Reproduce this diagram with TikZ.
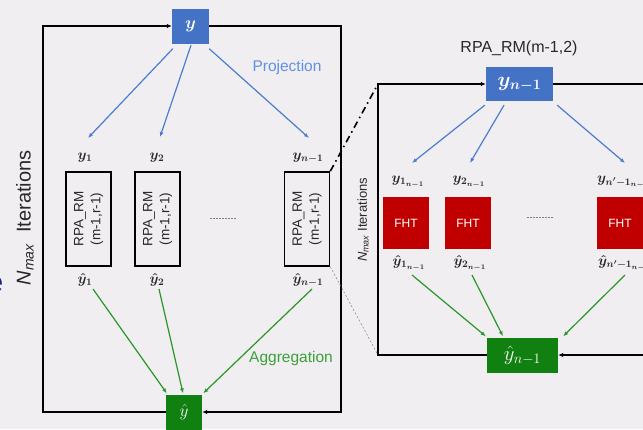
\documentclass[tikz,border=0pt]{standalone}
\usepackage[no-math]{fontspec}
\setmainfont{Liberation Sans}
\usepackage{bm}
\usepackage{graphicx}
\usetikzlibrary{arrows.meta,calc}
\definecolor{bg}{RGB}{240,238,240}
\definecolor{boxblue}{RGB}{68,114,196}
\definecolor{arrblue}{RGB}{74,125,210}
\definecolor{txtblue}{RGB}{95,145,225}
\definecolor{boxgreen}{RGB}{16,128,16}
\definecolor{arrgreen}{RGB}{40,150,40}
\definecolor{txtgreen}{RGB}{60,160,60}
\definecolor{boxred}{RGB}{192,0,0}
\definecolor{navyc}{RGB}{20,30,140}
\definecolor{lbl}{RGB}{40,40,40}
\begin{document}
\begin{tikzpicture}[x=1pt,y=-1pt,
  bluebox/.style={fill=boxblue,text=white,inner sep=0pt},
  greenbox/.style={fill=boxgreen,text=white,inner sep=0pt},
  rpabox/.style={draw=black,line width=1.6pt,minimum width=45pt,minimum height=94pt,inner sep=0pt,
     font=\fontsize{13.5}{17}\selectfont,text=lbl},
  fht/.style={fill=boxred,text=white,minimum width=46pt,minimum height=52pt,inner sep=0pt,
     font=\fontsize{12}{14}\selectfont},
  mlbl/.style={inner sep=0pt,text=lbl,font=\fontsize{14}{16}\selectfont},
  frame/.style={draw=black,line width=1.6pt},
  tipk/.style={-{Latex[length=5pt,width=4.5pt]}},
  proj/.style={draw=arrblue,line width=1.2pt,-{Latex[length=5pt,width=4pt]}},
  agg/.style={draw=arrgreen,line width=1.2pt,-{Latex[length=5pt,width=4pt]}},
  dotsty/.style={draw=gray,line width=0.8pt,dash pattern=on 2pt off 1pt},
  dashdot/.style={draw=black,line width=1.6pt,dash pattern=on 7pt off 4pt on 1.5pt off 4pt},
  thindash/.style={draw=gray,line width=0.5pt,dash pattern=on 2pt off 2pt}]
\useasboundingbox (0,0) rectangle (643,429);
\fill[bg] (0,0) rectangle (643,429);

% stray letter at the left edge
\node[text=navyc,font=\fontsize{30}{34}\selectfont,anchor=base east,inner sep=0pt] (ecut) at (3.5,292) {e};

% ---------- left part ----------
\node[bluebox,minimum width=37pt,minimum height=35pt] (yL) at (190.5,26) {\fontsize{18}{21}\selectfont$\bm{y}$};
\node[greenbox,minimum width=36pt,minimum height=35pt] (yhL) at (184,412) {\fontsize{18}{21}\selectfont$\hat{y}$};

\coordinate (LTL) at (43,26);
\coordinate (LBL) at (43,412);
\coordinate (LTR) at (341,26);
\coordinate (LBR) at (341,412);
\draw[frame,tipk] (yhL.west) -- (LBL) -- (LTL) -- (yL.west);
\draw[frame,tipk] (yL.east) -- (LTR) -- (LBR) -- (yhL.east);

\node[rotate=90,inner sep=0pt,text=lbl,font=\fontsize{20}{24}\selectfont] (itL) at (25,218)
  {{\itshape N\textsubscript{\fontsize{14}{16}\selectfont max}}\ \ Iterations};

\node[mlbl] (ly1) at (85,158) {$\bm{y_1}$};
\node[mlbl] (ly2) at (157,158) {$\bm{y_2}$};
\node[mlbl] (ly3) at (308,158) {$\bm{y_{n-1}}$};

\node[rpabox] (r1) at (88.5,219) {\rotatebox{90}{\begin{tabular}{@{}c@{}}RPA\_RM\\(m-1,r-1)\end{tabular}}};
\node[rpabox] (r2) at (157.5,219) {\rotatebox{90}{\begin{tabular}{@{}c@{}}RPA\_RM\\(m-1,r-1)\end{tabular}}};
\node[rpabox] (r3) at (307,219) {\rotatebox{90}{\begin{tabular}{@{}c@{}}RPA\_RM\\(m-1,r-1)\end{tabular}}};

\node[mlbl] (lh1) at (85,280) {$\bm{\hat{y}_1}$};
\node[mlbl] (lh2) at (157,280) {$\bm{\hat{y}_2}$};
\node[mlbl] (lh3) at (308,280) {$\bm{\hat{y}_{n-1}}$};

\draw[dotsty] (210,218) -- (236,218);

\draw[proj] ($(yL.south west)+(1,5)$) -- ($(ly1)+(3,-20)$);
\draw[proj] ($(yL.south)+(0.5,1.5)$) -- ($(ly2)+(3,-21)$);
\draw[proj] ($(yL.south east)+(0,5)$) -- ($(ly3)+(1,-20)$);

\draw[agg] ($(lh1)+(8,9)$) -- ($(yhL.north west)+(1,-1)$);
\draw[agg] ($(lh2)+(2,9)$) -- ($(yhL.north)+(-1,-1)$);
\draw[agg] ($(lh3)+(4,9)$) -- ($(yhL.north east)+(1,-1)$);

\node[text=txtblue,font=\fontsize{15.5}{18}\selectfont,inner sep=0pt] (projt) at (287,67) {Projection};
\node[text=txtgreen,font=\fontsize{15.5}{18}\selectfont,inner sep=0pt] (aggt) at (291,358) {Aggregation};

% ---------- right part ----------
\node[text=lbl,font=\fontsize{16}{19}\selectfont,inner sep=0pt] (title) at (519,48) {RPA\_RM(m-1,2)};
\node[bluebox,minimum width=67pt,minimum height=34pt] (yR) at (519.5,84) {\fontsize{20}{24}\selectfont$\bm{y_{n-1}}$};
\node[greenbox,minimum width=71pt,minimum height=35pt] (yhR) at (522.5,355) {\fontsize{20}{24}\selectfont$\hat{y}_{n-1}$};

\coordinate (RTL) at (378,84);
\coordinate (RBL) at (378,355);
\coordinate (RTR) at (646,84);
\coordinate (RBR) at (646,355);
\draw[frame,tipk] (yhR.west) -- (RBL) -- (RTL) -- (yR.west);
\draw[frame] (yR.east) -- (RTR);
\draw[frame,tipk] (RBR) -- (yhR.east);

\node[rotate=90,inner sep=0pt,text=lbl,font=\fontsize{13}{16}\selectfont] (itR) at (363,220)
  {{\itshape N\textsubscript{\fontsize{9}{11}\selectfont max}}\ Iterations};

\node[mlbl] (ly1R) at (408,182) {$\bm{y_{1_{n-1}}}$};
\node[mlbl] (ly2R) at (469,182) {$\bm{y_{2_{n-1}}}$};
\node[mlbl,anchor=west] (ly3R) at (597,182) {$\bm{y_{n'-1_{n-1}}}$};

\node[fht] (f1) at (406,223) {FHT};
\node[fht] (f2) at (468,223) {FHT};
\node[fht] (f3) at (620,223) {FHT};

\node[mlbl] (lh1R) at (409,263) {$\bm{\hat{y}_{1_{n-1}}}$};
\node[mlbl] (lh2R) at (470,263) {$\bm{\hat{y}_{2_{n-1}}}$};
\node[mlbl,anchor=west] (lh3R) at (598,263) {$\bm{\hat{y}_{n'-1_{n-1}}}$};

\draw[dotsty] (527,217) -- (553,217);

\draw[proj] ($(yR.south west)+(-1,4)$) -- ($(ly1R)+(4,-19)$);
\draw[proj] ($(yR.south)+(-15.5,4)$) -- ($(ly2R)+(1,-19)$);
\draw[proj] ($(yR.south east)+(4,4)$) -- ($(ly3R.west)+(28,-19)$);

\draw[agg] ($(lh1R)+(3,12)$) -- ($(yhR.north west)+(-1,-1)$);
\draw[agg] ($(lh2R)+(2,12)$) -- ($(yhR.north)+(-19.5,-1)$);
\draw[agg] ($(lh3R.west)+(27,12)$) -- ($(yhR.north east)+(5,-1)$);

% zoom links
\draw[dashdot] (r3.north east) -- (RTL);
\draw[thindash] (r3.south east) -- (RBL);
\end{tikzpicture}
\end{document}
